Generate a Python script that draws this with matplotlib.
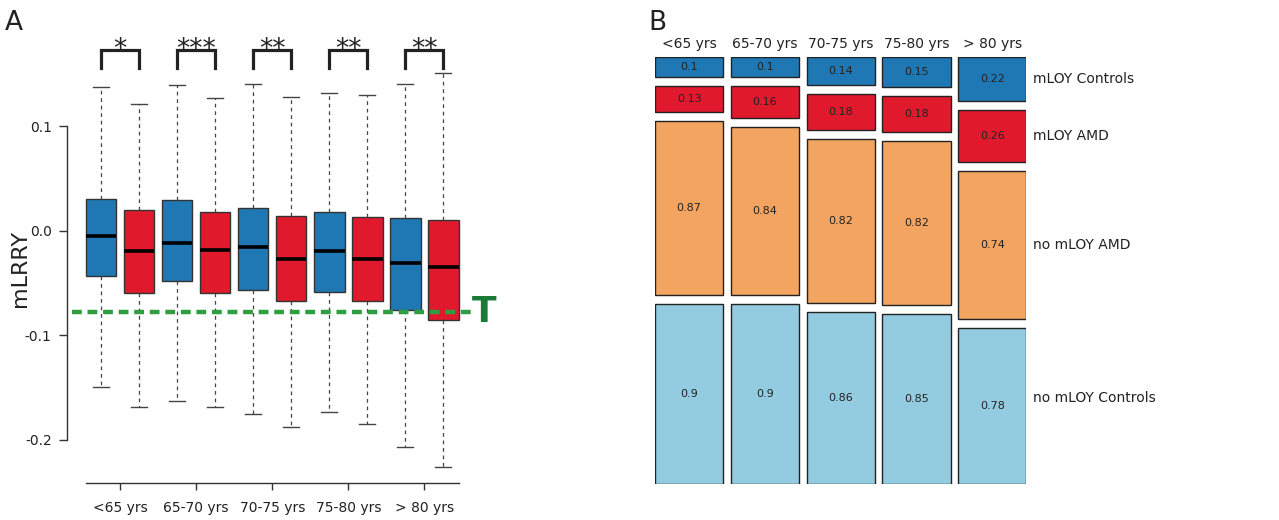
import matplotlib
matplotlib.use("Agg")
import matplotlib.pyplot as plt
import numpy as np

# age groups shared by both panels
age_groups = ["<65 yrs", "65-70 yrs", "70-75 yrs", "75-80 yrs", "> 80 yrs"]

# panel A: box stats, controls (blue) and AMD (red) per age group
ctrl_whislo = [-0.149, -0.163, -0.175, -0.173, -0.207]
ctrl_q1 = [-0.043, -0.048, -0.057, -0.059, -0.076]
ctrl_med = [-0.005, -0.012, -0.016, -0.019, -0.031]
ctrl_q3 = [0.030, 0.029, 0.022, 0.018, 0.012]
ctrl_whishi = [0.137, 0.139, 0.140, 0.132, 0.140]

amd_whislo = [-0.169, -0.169, -0.188, -0.185, -0.226]
amd_q1 = [-0.060, -0.060, -0.067, -0.067, -0.085]
amd_med = [-0.019, -0.018, -0.027, -0.027, -0.035]
amd_q3 = [0.020, 0.018, 0.014, 0.013, 0.010]
amd_whishi = [0.121, 0.127, 0.128, 0.130, 0.151]

signif = ["*", "***", "**", "**", "**"]
threshold = -0.078

# panel B: mosaic proportions
p_ctrl_mloy = [0.1, 0.1, 0.14, 0.15, 0.22]
p_amd_mloy = [0.13, 0.16, 0.18, 0.18, 0.26]
p_amd_no = [0.87, 0.84, 0.82, 0.82, 0.74]
p_ctrl_no = [0.9, 0.9, 0.86, 0.85, 0.78]
row_names = ["mLOY Controls", "mLOY AMD", "no mLOY AMD", "no mLOY Controls"]

BLUE = "#1f78b4"
RED = "#e0192d"
ORANGE = "#f4a461"
LIGHTBLUE = "#93cce0"
TXT = "#222222"

W, H = 1279, 520
fig = plt.figure(figsize=(W / 100, H / 100), dpi=100)
plt.rcParams["font.family"] = ["DejaVu Sans"]

# ---------------- panel A ----------------
axA = fig.add_axes([67 / W, (H - 483) / H, (500 - 67) / W, (483 - 10) / H])
n = len(age_groups)
pos_ctrl = np.arange(n) * 2 + 1
pos_amd = pos_ctrl + 1

stats = []
positions = []
colors = []
for i in range(n):
    stats.append(dict(med=ctrl_med[i], q1=ctrl_q1[i], q3=ctrl_q3[i],
                      whislo=ctrl_whislo[i], whishi=ctrl_whishi[i], fliers=[]))
    positions.append(pos_ctrl[i])
    colors.append(BLUE)
    stats.append(dict(med=amd_med[i], q1=amd_q1[i], q3=amd_q3[i],
                      whislo=amd_whislo[i], whishi=amd_whishi[i], fliers=[]))
    positions.append(pos_amd[i])
    colors.append(RED)

bp = axA.bxp(stats, positions=positions, widths=0.8, capwidths=0.42,
             patch_artist=True, showfliers=False,
             boxprops=dict(edgecolor="#333333", linewidth=1.0),
             medianprops=dict(color="black", linewidth=2.6),
             whiskerprops=dict(color="#444444", linewidth=0.9, linestyle=(0, (3, 3))),
             capprops=dict(color="#444444", linewidth=1.0))
for patch, c in zip(bp["boxes"], colors):
    patch.set_facecolor(c)

# threshold line and its label
axA.plot([0.25, 10.8], [threshold, threshold], color="#2e9e40", lw=3.2,
         linestyle=(0, (2.2, 1.3)), zorder=5)
axA.text(11.07, threshold, "T", color="#1b7a36", fontsize=26, fontweight="bold",
         ha="center", va="center")

# significance brackets
br_top, br_bot = 0.1727, 0.1555
for i in range(n):
    axA.plot([pos_ctrl[i], pos_ctrl[i], pos_amd[i], pos_amd[i]],
             [br_bot, br_top, br_top, br_bot], color="#222222", lw=2.3,
             solid_joinstyle="miter", clip_on=False)
    axA.text((pos_ctrl[i] + pos_amd[i]) / 2, 0.1665, signif[i], fontsize=19,
             ha="center", va="baseline", color="#222222")

axA.set_xlim(1 - 34 / 38.05, 1 + 399 / 38.05)
axA.set_ylim(-0.2412, 0.2110)
axA.spines["top"].set_visible(False)
axA.spines["right"].set_visible(False)
axA.spines["left"].set_bounds(-0.2, 0.1)
axA.spines["bottom"].set_bounds(0.6, 10.4)
for s in ("left", "bottom"):
    axA.spines[s].set_color("#333333")
    axA.spines[s].set_linewidth(1.0)
axA.set_yticks([-0.2, -0.1, 0.0, 0.1])
axA.set_yticklabels(["-0.2", "-0.1", "0.0", "0.1"])
axA.set_xticks((pos_ctrl + pos_amd) / 2)
axA.set_xticklabels(age_groups)
axA.tick_params(axis="y", length=6, width=1, color="#333333", pad=5,
                labelsize=10, labelcolor=TXT)
axA.tick_params(axis="x", length=5, width=1, color="#333333", pad=8,
                labelsize=10, labelcolor=TXT)
fig.text(20 / W, 1 - 268 / H, "mLRRY", rotation=90, fontsize=16, color=TXT,
         ha="center", va="center")

# ---------------- panel B ----------------
gx = 0.111   # horizontal gap, in column widths
gy = 0.045   # vertical gap, in units of half the height
axB = fig.add_axes([655 / W, (H - 484) / H, 371.3 / W, 426.7 / H])
xl = np.arange(n) * (1 + gx)
c_mloy = np.array(p_ctrl_mloy)
a_mloy = np.array(p_amd_mloy)
a_no = np.array(p_amd_no)
c_no = np.array(p_ctrl_no)

b0 = np.zeros(n)
b1 = c_mloy + gy
b2 = b1 + a_mloy + gy
b3 = b2 + a_no + gy
layers = [(c_mloy, b0, BLUE, p_ctrl_mloy), (a_mloy, b1, RED, p_amd_mloy),
          (a_no, b2, ORANGE, p_amd_no), (c_no, b3, LIGHTBLUE, p_ctrl_no)]
for hts, bots, col, labels in layers:
    axB.bar(xl, hts, width=1, bottom=bots, align="edge", color=col,
            edgecolor="#222222", linewidth=1.0)
    for j in range(n):
        axB.text(xl[j] + 0.5, bots[j] + hts[j] / 2, f"{labels[j]:g}", fontsize=8,
                 ha="center", va="center", color=TXT)

for j in range(n):
    axB.text(xl[j] + 0.5, -0.066, age_groups[j], fontsize=10, ha="center",
             va="center", color=TXT)

# row names at the right, beside the last column (bottom row sits a bit higher)
row_y = [b0[-1] + c_mloy[-1] / 2, b1[-1] + a_mloy[-1] / 2,
         b2[-1] + a_no[-1] / 2, np.mean(b3 + c_no / 2)]
for name, yv in zip(row_names, row_y):
    axB.text(xl[-1] + 1.098, yv, name, fontsize=10, ha="left", va="center",
             color=TXT)

axB.set_xlim(0, xl[-1] + 1)
axB.set_ylim(2 + 3 * gy, 0)
axB.axis("off")

fig.text(14 / W, 1 - 23 / H, "A", fontsize=19, color=TXT, ha="center", va="center")
fig.text(657 / W, 1 - 23 / H, "B", fontsize=19, color=TXT, ha="center", va="center")

fig.savefig("out.png", dpi=100)
